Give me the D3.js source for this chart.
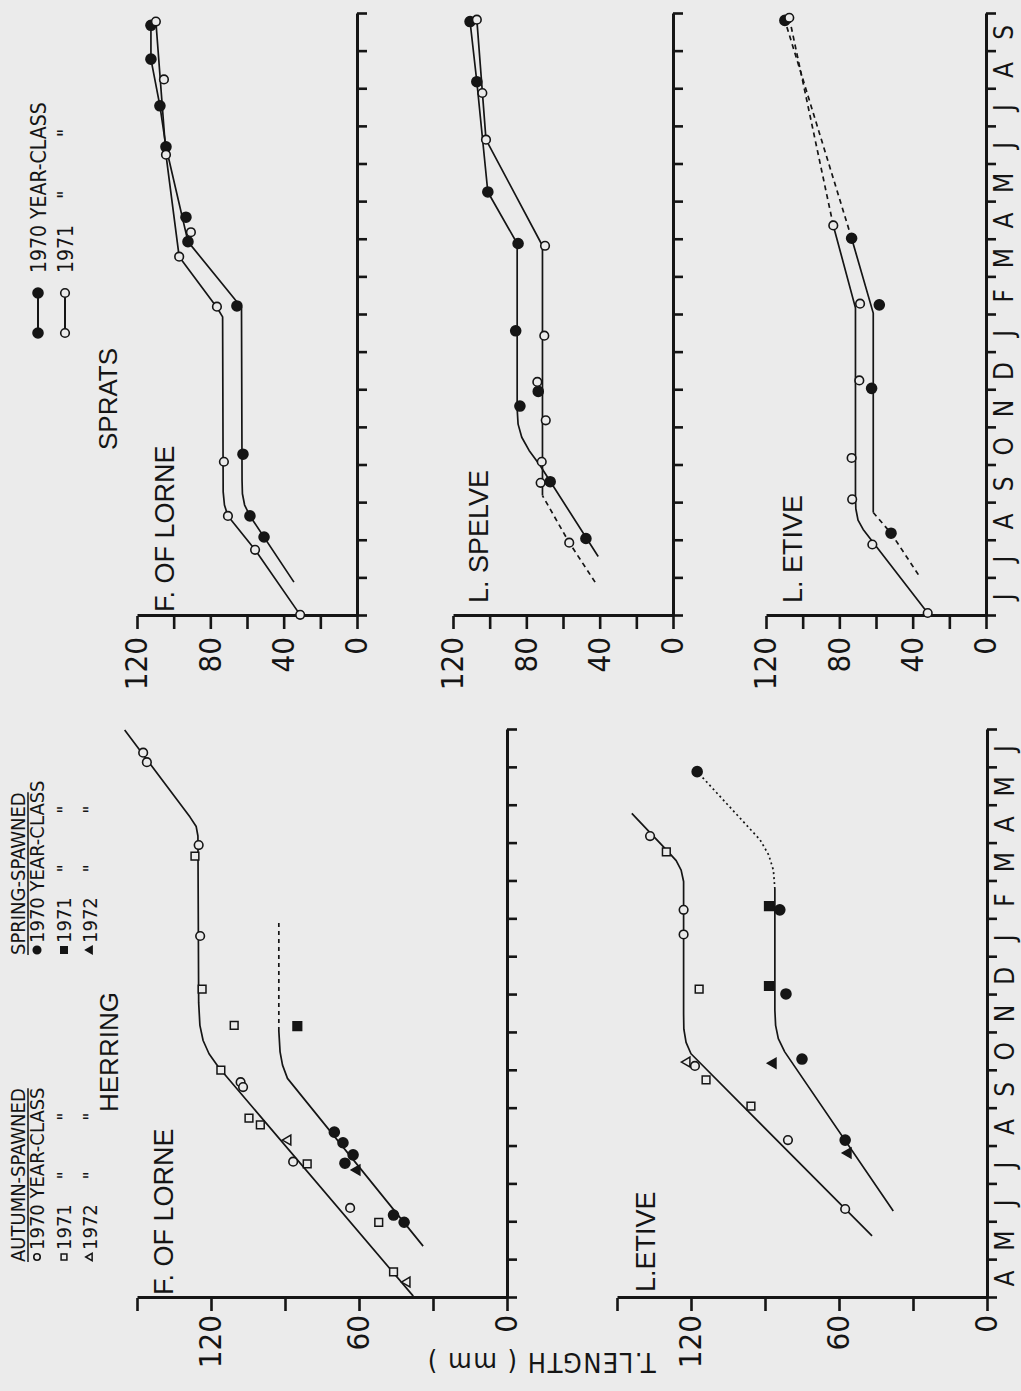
<!DOCTYPE html>
<html><head><meta charset="utf-8">
<script src="https://cdn.jsdelivr.net/npm/d3@7"></script>
<style>
html,body{margin:0;padding:0;background:#ebebeb;}
svg{display:block;}
</style></head><body>
<svg id="c" width="1021" height="1391"></svg>
<script>
// ---------------- DATA ----------------
const herringMonths = ["A","M","J","J","A","S","O","N","D","J","F","M","A","M","J"];
const spratMonths   = ["J","J","A","S","O","N","D","J","F","M","A","M","J","J","A","S"];
const herringLengthTicks  = [0,30,60,90,120,150];
const herringLengthLabels = [0,60,120];
const spratLengthTicks  = [0,20,40,60,80,100,120];
const spratLengthLabels = [0,40,80,120];

// Herring, F. of Lorne  ([month index from start of April, length mm])
const herringLorneAutumn1970 = [[2.38,63.6],[3.6,86.7],[5.7,108],[5.57,107],[9.56,124.4],[11.96,125],[14.4,147.5],[14.15,146]];
const herringLorneAutumn1971 = [[0.69,46],[2.0,52],[3.54,81],[4.75,104.6],[4.57,100],[6.02,116],[7.2,110.6],[8.16,123.6],[11.67,126.5]];
const herringLorneAutumn1972 = [[4.17,88.8],[0.42,40.5]];
const herringLorneSpring1970 = [[2.19,46],[2.0,41.7],[4.38,70],[4.1,66.5],[3.78,62.4],[3.56,65.7]];
const herringLorneSpring1971 = [[7.18,85]];
const herringLorneSpring1972 = [[3.38,60.8]];
const herringLorneAutumnCurve = [[0.05,38],[6.1,117],[6.45,120.8],[6.8,123.2],[7.2,124.5],[7.8,125],[12.2,125.3],[12.45,126],[12.7,128.5],[15.0,155]];
const herringLorneSpringCurve = [[1.37,34],[5.8,89],[6.15,91],[6.5,92],[7.05,92.5]];
const herringLorneSpringExt   = [[7.05,92.5],[10.0,92.5]];

// Herring, L. Etive
const herringEtiveAutumn1970 = [[2.35,57.5],[4.17,80.7],[6.13,118.4],[9.6,123],[10.25,123],[12.2,136.6]];
const herringEtiveAutumn1971 = [[5.07,95.7],[5.76,113.9],[8.16,116.7],[11.78,130]];
const herringEtiveAutumn1972 = [[6.23,121.6]];
const herringEtiveSpring1970 = [[4.17,57.5],[6.31,75],[8.03,81.5],[10.25,84],[13.9,117.5]];
const herringEtiveSpring1971 = [[8.24,88.4],[10.35,88.4]];
const herringEtiveSpring1972 = [[3.83,56.3],[6.2,86.7]];
const herringEtiveAutumnCurve = [[1.64,46.6],[6.45,120],[6.75,122],[7.1,122.9],[7.5,123],[11.0,123],[11.3,124],[11.55,126],[11.8,129.5],[12.8,144]];
const herringEtiveSpringCurve = [[2.3,38],[6.5,82],[6.85,84.6],[7.2,85.7],[7.6,86],[10.8,86]];
const herringEtiveSpringExt   = [[10.8,86],[11.3,86.6],[11.7,88.5],[12.1,92],[13.9,117.5]];

// Sprats ([month index from start of June, length mm])
const spratLorne1970 = [[2.1,50.7],[2.66,58.4],[4.3,62.2],[8.24,65.5],[9.95,92.2],[10.6,93.3],[12.47,104.2],[13.56,107.5],[14.8,112.4],[15.7,112.4]];
const spratLorne1971 = [[0.03,31],[1.76,55.6],[2.66,70.4],[4.1,72.6],[8.22,76.4],[9.55,97],[10.2,90.6],[12.26,104.2],[14.26,105.3],[15.8,109.7]];
const spratLorneCurve1970 = [[0.9,34.4],[2.66,58.4],[2.95,61.3],[3.25,62.5],[3.6,62.7],[8.2,63],[9.95,92.2],[12.47,104.2],[13.56,107.5],[14.8,112.4],[15.7,112.4]];
const spratLorneCurve1971 = [[0.03,31],[1.76,55.6],[2.66,70.4],[2.95,72.3],[3.3,73],[7.95,73.3],[8.2,76.4],[9.55,97],[12.26,104.2],[15.8,109.7]];

const spratSpelve1970 = [[15.8,110.7],[14.2,107],[11.27,101],[9.9,84.5],[7.58,85.8],[5.97,73.5],[5.58,83.5],[3.57,67],[2.06,47.5]];
const spratSpelve1971 = [[15.85,107],[13.9,104],[12.66,102],[9.84,69.8],[7.45,70.2],[6.22,74],[5.2,69.4],[4.1,71.6],[3.54,72.2],[1.95,56.6]];
const spratSpelveCurve1970 = [[1.58,40.8],[4.0,72.5],[4.4,78.5],[4.75,82.5],[5.1,84.5],[5.5,85],[9.9,85],[11.27,101],[14.2,107],[15.8,110.7]];
const spratSpelveCurve1971Ext = [[0.9,42.5],[1.95,56.6],[3.2,71.2]];
const spratSpelveCurve1971 = [[3.2,71.2],[9.84,71.2],[12.66,102],[15.85,107]];

const spratEtive1970 = [[2.2,51.8],[6.05,62.4],[8.27,58.2],[10.04,73.3],[15.83,109.7]];
const spratEtive1971 = [[0.08,31.8],[1.9,62],[3.1,73],[4.2,73.3],[6.26,69.1],[8.3,68.7],[10.38,83.3],[15.9,107.3]];
const spratEtiveCurve1971 = [[0.08,31.8],[2.3,67],[2.55,69.8],[2.85,71],[3.2,71.2],[8.19,71.2],[10.38,83.3]];
const spratEtiveCurve1971Ext = [[10.38,83.3],[15.9,107.3]];
const spratEtiveCurve1970Start = [[1.1,36.9],[2.2,51.8],[2.75,61.5]];
const spratEtiveCurve1970 = [[2.75,61.5],[8.05,61.5],[10.04,73.3]];
const spratEtiveCurve1970Ext = [[10.04,73.3],[15.83,109.7]];

// ---------------- DRAWING ----------------
const INK = "#151515", BG = "#ebebeb";
const FN = "'Liberation Sans Narrow','Arial Narrow','DejaVu Sans Condensed','Roboto Condensed','Liberation Sans',sans-serif";
const FR = "'Liberation Sans',Arial,'DejaVu Sans',sans-serif";

const svg = d3.select("#c");
svg.append("rect").attr("width",1021).attr("height",1391).attr("fill",BG);
// figure drawn upright in a 1391x1021 frame, then turned a quarter turn
const g = svg.append("g").attr("transform","translate(0,1391) rotate(-90)");

function marker(sel, kind, filled, sz) {
  sz = sz || 1;
  if (kind === "circle") {
    return sel.append("circle").attr("r", (filled?5:4.3)*sz)
      .attr("fill", filled?INK:BG).attr("stroke",INK).attr("stroke-width",1.6);
  }
  const type = kind === "square" ? d3.symbolSquare : d3.symbolTriangle;
  const size = kind === "square" ? (filled?75:60) : 42;
  return sel.append("path").attr("d", d3.symbol().type(type).size(size*sz*sz)())
    .attr("fill", filled?INK:BG).attr("stroke",INK).attr("stroke-width",1.5);
}

function styleAxis(ax, w) {
  ax.select(".domain").attr("stroke",INK).attr("stroke-width",w||3);
  ax.selectAll(".tick line").attr("stroke",INK).attr("stroke-width",2.6);
}

function drawPanel(p) {
  const pg = g.append("g");
  const va = pg.append("g").attr("transform",`translate(${p.x(0)},0)`)
    .call(d3.axisLeft(p.y).tickValues(p.ticks).tickSize(13).tickSizeOuter(0)
      .tickFormat(d => p.labels.includes(d) ? d : ""));
  styleAxis(va);
  va.selectAll(".tick text").attr("x", -p.labelGap).attr("font-family",FN)
    .attr("font-size",31).attr("fill",INK);
  const n = p.months.length;
  const ma = pg.append("g").attr("transform",`translate(0,${p.y(0)})`)
    .call(d3.axisBottom(p.x).tickValues(d3.range(n+1)).tickSize(10).tickSizeOuter(0).tickFormat(""));
  styleAxis(ma);
  if (p.showMonths) {
    const ml = pg.append("g").attr("transform",`translate(0,${p.y(0)})`)
      .call(d3.axisBottom(p.x).tickValues(d3.range(n).map(i=>i+0.5)).tickSize(0)
        .tickFormat((d,i)=>p.months[i]));
    ml.select(".domain").remove();
    ml.selectAll(".tick text").attr("y",27).attr("dy",null).attr("font-family",FN)
      .attr("font-size",26).attr("fill",INK);
  }
  const line = d3.line().x(d=>p.x(d[0])).y(d=>p.y(d[1])).curve(d3.curveLinear);
  p.curves.forEach(c => {
    pg.append("path").attr("d", line(c.data)).attr("fill","none").attr("stroke",INK)
      .attr("stroke-width",1.7).attr("stroke-linejoin","round").attr("stroke-dasharray", c.dash || null);
  });
  p.points.forEach(s => {
    s.data.forEach(d => {
      const m = marker(pg, s.kind, s.filled);
      if (s.kind === "circle") m.attr("cx",p.x(d[0])).attr("cy",p.y(d[1]));
      else m.attr("transform",`translate(${p.x(d[0])},${p.y(d[1])})`);
    });
  });
  pg.append("text").attr("x",p.title.u).attr("y",p.title.v).text(p.title.text)
    .attr("font-family",FR).attr("font-size",27).attr("fill",INK);
}

const hx = d3.scaleLinear().domain([0,15]).range([93,661]);
const sx = d3.scaleLinear().domain([0,16]).range([775,1377]);

drawPanel({x:hx, y:d3.scaleLinear().domain([0,150]).range([507,137]), ticks:herringLengthTicks,
  labels:herringLengthLabels, labelGap:17, months:herringMonths, showMonths:false,
  title:{text:"F. OF LORNE",u:96,v:173},
  curves:[{data:herringLorneAutumnCurve},{data:herringLorneSpringCurve},{data:herringLorneSpringExt,dash:"4,4"}],
  points:[{data:herringLorneAutumn1970,kind:"circle",filled:false},{data:herringLorneAutumn1971,kind:"square",filled:false},
    {data:herringLorneAutumn1972,kind:"triangle",filled:false},{data:herringLorneSpring1970,kind:"circle",filled:true},
    {data:herringLorneSpring1971,kind:"square",filled:true},{data:herringLorneSpring1972,kind:"triangle",filled:true}]});

drawPanel({x:hx, y:d3.scaleLinear().domain([0,150]).range([987,617]), ticks:herringLengthTicks,
  labels:herringLengthLabels, labelGap:17, months:herringMonths, showMonths:true,
  title:{text:"L.ETIVE",u:99,v:655},
  curves:[{data:herringEtiveAutumnCurve},{data:herringEtiveSpringCurve},{data:herringEtiveSpringExt,dash:"2,3"}],
  points:[{data:herringEtiveAutumn1970,kind:"circle",filled:false},{data:herringEtiveAutumn1971,kind:"square",filled:false},
    {data:herringEtiveAutumn1972,kind:"triangle",filled:false},{data:herringEtiveSpring1970,kind:"circle",filled:true},
    {data:herringEtiveSpring1971,kind:"square",filled:true},{data:herringEtiveSpring1972,kind:"triangle",filled:true}]});

drawPanel({x:sx, y:d3.scaleLinear().domain([0,120]).range([357,137]), ticks:spratLengthTicks,
  labels:spratLengthLabels, labelGap:21, months:spratMonths, showMonths:false,
  title:{text:"F. OF LORNE",u:779,v:174},
  curves:[{data:spratLorneCurve1970},{data:spratLorneCurve1971}],
  points:[{data:spratLorne1970,kind:"circle",filled:true},{data:spratLorne1971,kind:"circle",filled:false}]});

drawPanel({x:sx, y:d3.scaleLinear().domain([0,120]).range([673,453]), ticks:spratLengthTicks,
  labels:spratLengthLabels, labelGap:21, months:spratMonths, showMonths:false,
  title:{text:"L. SPELVE",u:788,v:488},
  curves:[{data:spratSpelveCurve1970},{data:spratSpelveCurve1971},{data:spratSpelveCurve1971Ext,dash:"5,4"}],
  points:[{data:spratSpelve1970,kind:"circle",filled:true},{data:spratSpelve1971,kind:"circle",filled:false}]});

drawPanel({x:sx, y:d3.scaleLinear().domain([0,120]).range([986,766]), ticks:spratLengthTicks,
  labels:spratLengthLabels, labelGap:21, months:spratMonths, showMonths:true,
  title:{text:"L. ETIVE",u:788,v:802},
  curves:[{data:spratEtiveCurve1971},{data:spratEtiveCurve1971Ext,dash:"5,4"},
    {data:spratEtiveCurve1970Start,dash:"5,4"},{data:spratEtiveCurve1970},{data:spratEtiveCurve1970Ext,dash:"5,4"}],
  points:[{data:spratEtive1970,kind:"circle",filled:true},{data:spratEtive1971,kind:"circle",filled:false}]});

g.append("text").attr("x",279).attr("y",118).text("HERRING").attr("font-family",FR).attr("font-size",26).attr("fill",INK);
g.append("text").attr("x",941).attr("y",117).text("SPRATS").attr("font-family",FR).attr("font-size",26).attr("fill",INK);

g.append("text").attr("transform","translate(38,541) rotate(-90)").attr("text-anchor","middle")
  .text("T.LENGTH ( mm )").attr("font-family",FN).attr("font-size",27).attr("letter-spacing",1.5).attr("fill",INK);

function herringLegend(u0, title, filled) {
  const lg = g.append("g");
  const fs = 20;
  const tt = lg.append("text").attr("x",u0).attr("y",25).text(title)
    .attr("font-family",FN).attr("font-size",fs).attr("fill",INK);
  const w = tt.node().getComputedTextLength();
  lg.append("line").attr("x1",u0).attr("x2",u0+w).attr("y1",28).attr("y2",28).attr("stroke",INK).attr("stroke-width",1.5);
  const kinds = ["circle","square","triangle"];
  const years = ["1970","1971","1972"];
  const vs = [44,71,97];
  let yearPos = null;
  kinds.forEach((k,i) => {
    const m = marker(lg, k, filled, 0.75);
    if (k === "circle") m.attr("cx",u0+5).attr("cy",vs[i]-7);
    else m.attr("transform",`translate(${u0+5},${vs[i]-7})`);
    const t = lg.append("text").attr("x",u0+12).attr("y",vs[i]).attr("font-family",FN)
      .attr("font-size",fs).attr("fill",INK).text(i===0 ? years[i]+" YEAR-CLASS" : years[i]);
    if (i===0) {
      const nd = t.node();
      yearPos = [u0+12+nd.getSubStringLength(0,5)+nd.getSubStringLength(5,4)/2,
                 u0+12+nd.getSubStringLength(0,10)+nd.getSubStringLength(10,5)/2];
    } else {
      yearPos.forEach(p => lg.append("text").attr("x",p).attr("y",vs[i]).attr("text-anchor","middle")
        .attr("font-family",FN).attr("font-size",fs).attr("fill",INK).text("\""));
    }
  });
}
herringLegend(129, "AUTUMN-SPAWNED", false);
herringLegend(436, "SPRING-SPAWNED", true);

(function(){
  const lg = g.append("g");
  const rows = [{v:38, filled:true, label:"1970 YEAR-CLASS"},{v:65, filled:false, label:"1971"}];
  let pos = null;
  rows.forEach((r,i) => {
    lg.append("line").attr("x1",1058).attr("x2",1098).attr("y1",r.v).attr("y2",r.v).attr("stroke",INK).attr("stroke-width",2);
    [1058,1098].forEach(u => marker(lg,"circle",r.filled).attr("cx",u).attr("cy",r.v));
    const t = lg.append("text").attr("x",1118).attr("y",r.v+8).attr("font-family",FN).attr("font-size",21)
      .attr("fill",INK).text(r.label);
    if (i===0) {
      const nd = t.node();
      pos = [1118+nd.getSubStringLength(0,5)+nd.getSubStringLength(5,4)/2,
             1118+nd.getSubStringLength(0,10)+nd.getSubStringLength(10,5)/2];
    } else {
      pos.forEach(p => lg.append("text").attr("x",p).attr("y",r.v+8).attr("text-anchor","middle")
        .attr("font-family",FN).attr("font-size",21).attr("fill",INK).text("\""));
    }
  });
})();
</script></body></html>
